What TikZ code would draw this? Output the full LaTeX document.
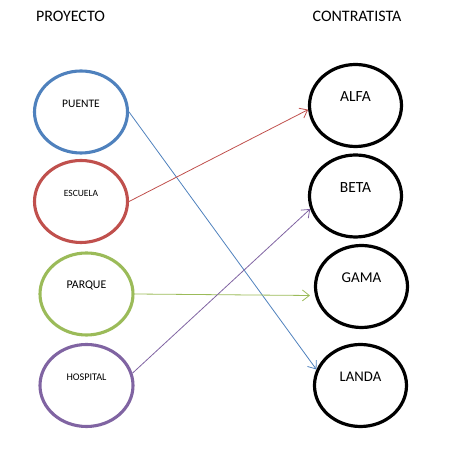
\documentclass[tikz,border=0pt]{standalone}
\usepackage{fontspec}
\setmainfont{Carlito}
\usetikzlibrary{shapes.geometric,arrows.meta}
\definecolor{cblue}{HTML}{4F81BD}
\definecolor{cred}{HTML}{C0504D}
\definecolor{cgreen}{HTML}{9BBB59}
\definecolor{cpurple}{HTML}{8064A2}
\tikzset{
  ell/.style={ellipse, draw, line width=3.1pt, inner sep=0pt, minimum width=93pt, minimum height=82pt},
  rell/.style={ellipse, draw=black, line width=3.2pt, inner sep=0pt, minimum width=92pt, minimum height=82pt},
  lbl/.style={inner sep=0pt, yshift=8.5pt},
  ttl/.style={inner sep=0pt, font=\fontsize{16}{18}\selectfont},
  conn/.style={line width=0.8pt, -{Straight Barb[length=7pt,width=11pt]}},
}
\begin{document}
\begin{tikzpicture}[x=1pt,y=1pt]
\useasboundingbox (0,0) rectangle (456,452);
\node[ttl] (t1) at (70.5,436) {PROYECTO};
\node[ttl] (t2) at (357,436) {CONTRATISTA};
\node[ell, draw=cblue] (puente) at (81,340) {};
\node[ell, draw=cred] (escuela) at (81,250.5) {};
\node[ell, draw=cgreen] (parque) at (86.5,158) {};
\node[ell, draw=cpurple] (hospital) at (86.5,66.5) {};
\node[rell] (alfa) at (355.5,346.5) {};
\node[rell] (beta) at (355.5,256) {};
\node[rell] (gama) at (361.5,165.5) {};
\node[rell] (landa) at (360.5,66.5) {};
\node[lbl, font=\fontsize{11.5}{13}\selectfont] (lpuente) at (puente) {PUENTE};
\node[lbl, font=\fontsize{9.5}{11}\selectfont] (lescuela) at (escuela) {ESCUELA};
\node[lbl, font=\fontsize{11.8}{13}\selectfont] (lparque) at (parque) {PARQUE};
\node[lbl, font=\fontsize{10.2}{12}\selectfont] (lhospital) at (hospital) {HOSPITAL};
\node[lbl, font=\fontsize{15.5}{17}\selectfont] (lalfa) at (alfa) {ALFA};
\node[lbl, font=\fontsize{15.5}{17}\selectfont] (lbeta) at (beta) {BETA};
\node[lbl, font=\fontsize{15}{17}\selectfont] (lgama) at (gama) {GAMA};
\node[lbl, font=\fontsize{14.7}{17}\selectfont] (llanda) at (landa) {LANDA};
\draw[conn, cblue] (puente.east) -- (landa.160);
\draw[conn, cred] (escuela.east) -- (alfa.185);
\draw[conn, cgreen, shorten >=5pt] (parque.east) -- (gama.191);
\draw[conn, cpurple] (hospital.15) -- (beta.196);
\end{tikzpicture}
\end{document}
